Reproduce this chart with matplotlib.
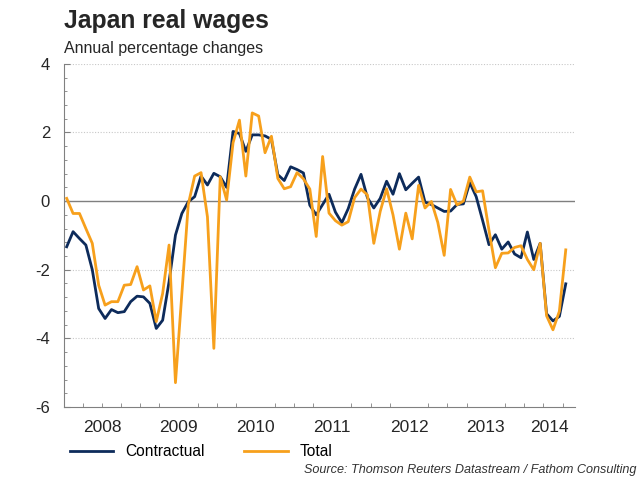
import numpy as np
import matplotlib
matplotlib.use('Agg')
import matplotlib.pyplot as plt
from matplotlib.ticker import MultipleLocator, FixedLocator

plt.rcParams['font.family'] = ['Liberation Sans', 'DejaVu Sans']

# Monthly real wage growth, Jan 2008 - Jul 2014 (% y/y)
contractual = [
    -1.33, -0.89, -1.09, -1.28, -2.00, -3.13, -3.42, -3.16, -3.25, -3.22, -2.93, -2.77,
    -2.79, -2.98, -3.71, -3.47, -2.35, -0.99, -0.36, -0.02, 0.13, 0.73, 0.47, 0.81,
    0.71, 0.40, 2.03, 1.97, 1.45, 1.93, 1.93, 1.90, 1.80, 0.77, 0.60, 1.00,
    0.92, 0.82, -0.12, -0.40, -0.10, 0.20, -0.32, -0.63, -0.22, 0.35, 0.78, 0.10,
    -0.20, 0.08, 0.58, 0.20, 0.80, 0.33, 0.52, 0.70, -0.03, -0.10, -0.20, -0.30,
    -0.29, -0.10, -0.08, 0.54, 0.13, -0.56, -1.27, -0.98, -1.40, -1.19, -1.54, -1.65,
    -0.90, -1.70, -1.23, -3.28, -3.49, -3.36, -2.41,
]
total = [
    0.08, -0.36, -0.36, -0.80, -1.23, -2.45, -3.03, -2.93, -2.93, -2.45, -2.43, -1.91,
    -2.59, -2.47, -3.51, -2.69, -1.28, -5.29, -2.70, -0.10, 0.73, 0.83, -0.46, -4.29,
    0.71, 0.03, 1.70, 2.36, 0.73, 2.57, 2.48, 1.41, 1.89, 0.66, 0.36, 0.42,
    0.83, 0.65, 0.35, -1.03, 1.30, -0.35, -0.57, -0.70, -0.60, 0.10, 0.35, 0.18,
    -1.23, -0.30, 0.36, -0.40, -1.40, -0.35, -1.10, 0.46, -0.20, -0.01, -0.62, -1.58,
    0.34, -0.11, 0.00, 0.70, 0.27, 0.30, -0.85, -1.94, -1.52, -1.51, -1.35, -1.30,
    -1.70, -2.00, -1.23, -3.34, -3.75, -3.21, -1.42,
]
years = ['2008', '2009', '2010', '2011', '2012', '2013', '2014']
y_ticks = [-6, -4, -2, 0, 2, 4]

x = np.arange(len(total))
xmin, xmax = -0.42, 79.4

fig = plt.figure(figsize=(6.4, 4.8), dpi=100)
ax = fig.add_axes([0.1, 0.152, 0.798, 0.715])

# grid lines and zero line
for v in y_ticks:
    if v == 0:
        ax.axhline(v, color='#7f7f7f', lw=1.0, zorder=1)
    elif v != -6:
        ax.axhline(v, color='#c8c8c8', lw=0.8, ls=(0, (1, 1.5)), zorder=1)

ax.plot(x, contractual, color='#0d2b5b', lw=2.0, label='Contractual', zorder=3)
ax.plot(x, total, color='#f7a01c', lw=2.0, label='Total', zorder=4)

ax.set_xlim(xmin, xmax)
ax.set_ylim(-6, 4)

for s in ['top', 'right']:
    ax.spines[s].set_visible(False)
for s in ['left', 'bottom']:
    ax.spines[s].set_color('#808080')
    ax.spines[s].set_linewidth(0.8)

# y axis
ax.yaxis.set_major_locator(FixedLocator(y_ticks))
ax.set_yticklabels([str(v) for v in y_ticks])
ax.yaxis.set_minor_locator(MultipleLocator(0.4))
ax.tick_params(axis='y', which='major', direction='in', length=4, color='#808080',
               labelsize=12, pad=10, labelcolor='#262626')
ax.tick_params(axis='y', which='minor', direction='in', length=2, color='#808080')

# x axis: year labels centred on visible part of each year, quarter ticks
centers = []
for k, yr in enumerate(years):
    start = 12 * k
    lo = max(start - 0.5, xmin)
    hi = min(start + 11.5, xmax)
    centers.append((lo + hi) / 2)
ax.xaxis.set_major_locator(FixedLocator(centers))
ax.set_xticklabels(years)
ax.xaxis.set_minor_locator(FixedLocator(np.arange(-0.5, xmax, 3)))
ax.tick_params(axis='x', which='major', length=0, labelsize=12.5, pad=9, labelcolor='#262626')
ax.tick_params(axis='x', which='minor', direction='in', length=3, color='#808080')

fig.text(0.1, 1 - 21 / 480, 'Japan real wages', fontsize=17.8, fontweight='bold',
         ha='left', va='center', color='#262626')
fig.text(0.1, 1 - 49 / 480, 'Annual percentage changes', fontsize=11.5,
         ha='left', va='center', color='#262626')

fig.legend(loc='center left', bbox_to_anchor=(0.087, 28 / 480), ncol=2, frameon=False,
           fontsize=11.2, handlelength=2.8, handletextpad=0.8, columnspacing=2.5)

fig.text(0.994, 1 - 470 / 480, 'Source: Thomson Reuters Datastream / Fathom Consulting',
         fontsize=9.1, style='italic', ha='right', va='center', color='#333333')

fig.savefig('out.png', dpi=100)
